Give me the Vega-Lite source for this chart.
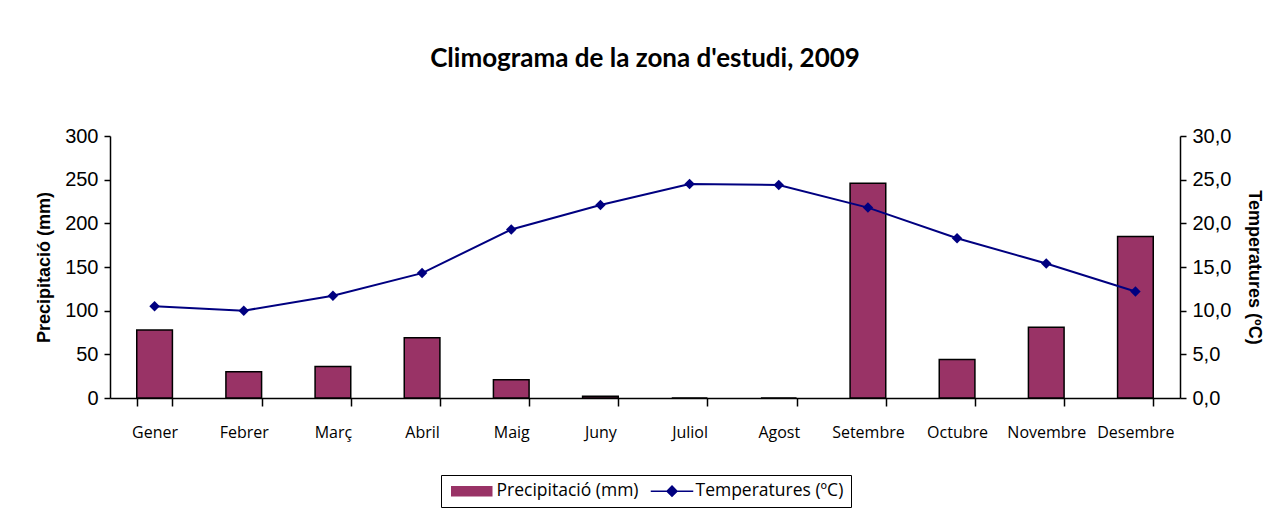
{
  "$schema": "https://vega.github.io/schema/vega-lite/v6.json",
  "width": 1070,
  "height": 262,
  "autosize": {"type": "none"},
  "padding": {"left": 110, "top": 136, "right": 94, "bottom": 113},
  "background": "white",
  "title": {
    "text": "Climograma de la zona d'estudi, 2009",
    "font": "Lato",
    "fontSize": 26,
    "fontWeight": "bold",
    "color": "black",
    "anchor": "middle",
    "offset": 54
  },
  "data": {
    "values": [
      {"mes": "Gener", "prec": 78, "temp": 10.5},
      {"mes": "Febrer", "prec": 30, "temp": 10.0},
      {"mes": "Març", "prec": 36, "temp": 11.7},
      {"mes": "Abril", "prec": 69, "temp": 14.3},
      {"mes": "Maig", "prec": 21, "temp": 19.3},
      {"mes": "Juny", "prec": 2, "temp": 22.1},
      {"mes": "Juliol", "prec": 0, "temp": 24.5},
      {"mes": "Agost", "prec": 0, "temp": 24.4},
      {"mes": "Setembre", "prec": 246, "temp": 21.8},
      {"mes": "Octubre", "prec": 44, "temp": 18.3},
      {"mes": "Novembre", "prec": 81, "temp": 15.4},
      {"mes": "Desembre", "prec": 185, "temp": 12.2}
    ]
  },
  "encoding": {
    "x": {
      "field": "mes",
      "type": "nominal",
      "sort": null,
      "scale": {"paddingInner": 0.6, "paddingOuter": 0.3},
      "axis": {
        "title": null,
        "labelAngle": 0,
        "labelFont": "Open Sans",
        "labelFontSize": 16,
        "labelColor": "black",
        "labelPadding": 18,
        "tickBand": "extent",
        "tickSize": 8,
        "tickColor": "black",
        "tickWidth": 1.5,
        "domainColor": "black",
        "domainWidth": 1.5,
        "grid": false
      }
    }
  },
  "layer": [
    {
      "mark": {"type": "bar", "stroke": "black", "strokeWidth": 1.5},
      "encoding": {
        "y": {
          "field": "prec",
          "type": "quantitative",
          "scale": {"domain": [0, 300]},
          "axis": {
            "title": "Precipitació (mm)",
            "titleFont": "Liberation Sans",
            "titleFontSize": 18,
            "titleFontWeight": "bold",
            "titleColor": "black",
            "titlePadding": 11,
            "values": [0, 50, 100, 150, 200, 250, 300],
            "labelFont": "Liberation Sans",
            "labelFontSize": 20,
            "labelColor": "black",
            "labelPadding": 6,
            "tickSize": 6,
            "tickColor": "black",
            "tickWidth": 1.5,
            "domainColor": "black",
            "domainWidth": 1.5,
            "grid": false
          }
        },
        "color": {
          "datum": "Precipitació (mm)",
          "type": "nominal",
          "scale": {
            "domain": ["Precipitació (mm)", "Temperatures (ºC)"],
            "range": ["#993366", "#000080"]
          },
          "legend": {
            "title": null,
            "orient": "none",
            "legendX": 331,
            "legendY": 339,
            "direction": "horizontal",
            "labelFont": "Open Sans",
            "labelFontSize": 17.5,
            "labelColor": "black",
            "strokeColor": "black",
            "padding": 7,
            "columnPadding": 8,
            "symbolSize": 100,
            "labelOffset": 31,
            "encode": {
              "symbols": {
                "update": {
                  "shape": {"signal": "datum.value === 'Precipitació (mm)' ? 'M-1,-0.9H7V0.9H-1Z' : 'M-1,0H7.5M3.25,-1L4.25,0L3.25,1L2.25,0Z'"},
                  "stroke": {"signal": "datum.value === 'Precipitació (mm)' ? 'black' : '#000080'"},
                  "strokeWidth": {"value": 1.5}
                }
              }
            }
          }
        }
      }
    },
    {
      "mark": {"type": "line", "strokeWidth": 2},
      "encoding": {
        "y": {
          "field": "temp",
          "type": "quantitative",
          "scale": {"domain": [0, 30]},
          "axis": {
            "orient": "right",
            "title": "Temperatures (ºC)",
            "titleFont": "Liberation Sans",
            "titleFontSize": 18,
            "titleFontWeight": "bold",
            "titleColor": "black",
            "titlePadding": 14,
            "values": [0, 5, 10, 15, 20, 25, 30],
            "labelExpr": "replace(format(datum.value, '.1f'), '.', ',')",
            "labelFont": "Liberation Sans",
            "labelFontSize": 20,
            "labelColor": "black",
            "labelPadding": 6,
            "tickSize": 6,
            "tickColor": "black",
            "tickWidth": 1.5,
            "domainColor": "black",
            "domainWidth": 1.5,
            "grid": false
          }
        },
        "color": {
          "datum": "Temperatures (ºC)",
          "type": "nominal",
          "legend": {
            "encode": {
              "symbols": {
                "update": {
                  "shape": {"signal": "datum.value === 'Precipitació (mm)' ? 'M-1,-0.9H7V0.9H-1Z' : 'M-1,0H7.5M3.25,-1L4.25,0L3.25,1L2.25,0Z'"},
                  "stroke": {"signal": "datum.value === 'Precipitació (mm)' ? 'black' : '#000080'"},
                  "strokeWidth": {"value": 1.5}
                }
              }
            }
          }
        }
      }
    },
    {
      "mark": {"type": "point", "shape": "diamond", "filled": true, "size": 110, "opacity": 1},
      "encoding": {
        "y": {"field": "temp", "type": "quantitative", "scale": {"domain": [0, 30]}, "axis": null},
        "color": {
          "datum": "Temperatures (ºC)",
          "type": "nominal",
          "legend": {
            "encode": {
              "symbols": {
                "update": {
                  "shape": {"signal": "datum.value === 'Precipitació (mm)' ? 'M-1,-0.9H7V0.9H-1Z' : 'M-1,0H7.5M3.25,-1L4.25,0L3.25,1L2.25,0Z'"},
                  "stroke": {"signal": "datum.value === 'Precipitació (mm)' ? 'black' : '#000080'"},
                  "strokeWidth": {"value": 1.5}
                }
              }
            }
          }
        }
      }
    }
  ],
  "resolve": {"scale": {"y": "independent"}},
  "config": {"view": {"stroke": null}}
}
